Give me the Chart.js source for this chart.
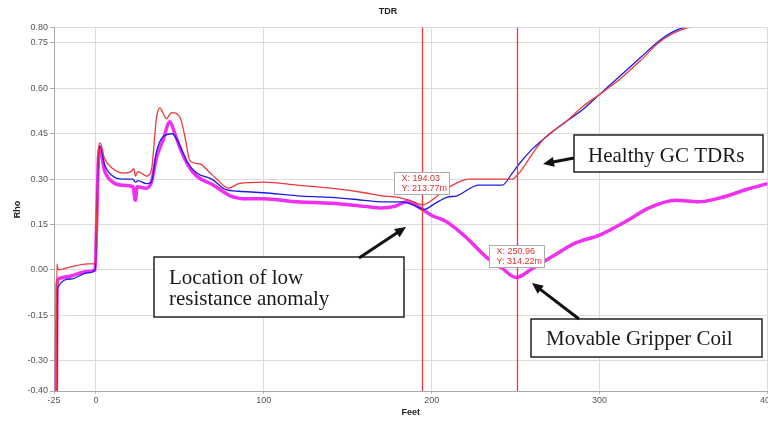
<!DOCTYPE html>
<html>
<head>
<meta charset="utf-8">
<script src="https://cdn.jsdelivr.net/npm/chart.js@4.4.1/dist/chart.umd.min.js"></script>
<style>
  html, body { margin: 0; padding: 0; background: #fff; overflow: hidden; }
  #wrap { width: 776px; height: 421px; }
</style>
</head>
<body>
<div id="wrap"><canvas id="tdr" width="776" height="421"></canvas></div>
<script>
// 1. Data (feet vs rho)
const xTicks = [-25, 0, 100, 200, 300, 400];
const yTicks = [-0.40, -0.30, -0.15, 0.00, 0.15, 0.30, 0.45, 0.60, 0.75, 0.80];

const redFeet = [-23.6, -23.3, -22.5, -15, -5, -0.5, 0.5, 1.5, 2.5, 5, 10, 16, 21, 22.5, 23.5, 25, 30, 33, 36, 38, 42, 45, 50, 53, 56, 62, 68, 72, 79, 85, 100, 120, 140, 160, 170, 180, 187, 194.5, 200, 208, 216, 222, 230, 240, 248, 252, 256, 262, 268, 280, 290, 300, 312, 324, 335, 343, 352, 360, 370];
const redRho = [-0.42, 0.02, 0.00, 0.01, 0.02, 0.02, 0.20, 0.40, 0.42, 0.37, 0.335, 0.32, 0.325, 0.335, 0.31, 0.325, 0.31, 0.33, 0.50, 0.535, 0.50, 0.52, 0.505, 0.44, 0.36, 0.35, 0.32, 0.30, 0.27, 0.285, 0.29, 0.28, 0.27, 0.255, 0.245, 0.24, 0.23, 0.215, 0.23, 0.265, 0.29, 0.30, 0.30, 0.30, 0.30, 0.32, 0.35, 0.40, 0.44, 0.49, 0.54, 0.58, 0.63, 0.69, 0.75, 0.78, 0.80, 0.81, 0.83];

const blueFeet = [-23.4, -22.8, -15, -5, -0.5, 0.5, 1.5, 2.5, 5, 10, 16, 22, 23.5, 25, 30, 33, 36, 40, 45.5, 50, 54.5, 60, 69, 77.5, 85, 100, 120, 140, 160, 170, 182, 189, 195.5, 202, 209, 215, 228, 242, 248, 252, 260, 264, 275, 290, 300, 312, 324, 335, 343, 352, 360, 370];
const blueRho = [-0.40, -0.06, -0.03, -0.01, 0.00, 0.18, 0.38, 0.41, 0.35, 0.31, 0.30, 0.30, 0.29, 0.295, 0.285, 0.29, 0.39, 0.44, 0.45, 0.41, 0.355, 0.32, 0.30, 0.265, 0.26, 0.255, 0.245, 0.24, 0.23, 0.225, 0.225, 0.215, 0.20, 0.22, 0.24, 0.245, 0.28, 0.28, 0.32, 0.35, 0.40, 0.42, 0.47, 0.53, 0.58, 0.64, 0.70, 0.755, 0.785, 0.805, 0.82, 0.84];

const pinkFeet = [-23.6, -23.2, -22.5, -15, -5, -0.5, 0.5, 1.5, 2.5, 5, 10, 16, 22, 23.5, 24.5, 30, 33, 36, 40, 44, 47, 51, 55, 60, 70, 80, 90, 100, 120, 140, 160, 170, 178, 185, 194.5, 200, 208.6, 220, 232, 242, 250.3, 260, 272, 286, 300, 315.6, 329.5, 345.5, 359, 373, 387, 400];
const pinkRho = [-0.42, -0.05, -0.03, -0.02, -0.005, 0.00, 0.18, 0.37, 0.40, 0.33, 0.29, 0.28, 0.275, 0.23, 0.275, 0.27, 0.29, 0.37, 0.43, 0.49, 0.45, 0.39, 0.345, 0.31, 0.28, 0.245, 0.235, 0.235, 0.225, 0.22, 0.21, 0.205, 0.21, 0.225, 0.20, 0.18, 0.16, 0.11, 0.045, 0.005, -0.025, 0.005, 0.045, 0.09, 0.115, 0.16, 0.205, 0.23, 0.225, 0.24, 0.265, 0.285];

// cursor markers
const cursorFeet = [194.03, 250.96];
const cursorRho = [0.215, -0.025];
const cursorText = [['X: 194.03', 'Y: 213.77m'], ['X: 250.96', 'Y: 314.22m']];

function toPoints(xs, ys) {
  return xs.map((x, i) => ({ x: x, y: ys[i] }));
}

// 2. Callouts, arrows and cursor lines
function arrow(ctx, x1, y1, x2, y2) {
  const ang = Math.atan2(y2 - y1, x2 - x1);
  const hl = 11, hw = 5;
  ctx.save();
  ctx.strokeStyle = '#111';
  ctx.fillStyle = '#111';
  ctx.lineWidth = 3;
  ctx.beginPath();
  ctx.moveTo(x1, y1);
  ctx.lineTo(x2 - Math.cos(ang) * hl * 0.8, y2 - Math.sin(ang) * hl * 0.8);
  ctx.stroke();
  ctx.beginPath();
  ctx.moveTo(x2, y2);
  ctx.lineTo(x2 - Math.cos(ang) * hl + Math.sin(ang) * hw, y2 - Math.sin(ang) * hl - Math.cos(ang) * hw);
  ctx.lineTo(x2 - Math.cos(ang) * hl - Math.sin(ang) * hw, y2 - Math.sin(ang) * hl + Math.cos(ang) * hw);
  ctx.closePath();
  ctx.fill();
  ctx.restore();
}

function callout(ctx, x, y, w, h, lines, tx, ty) {
  ctx.save();
  ctx.fillStyle = '#fff';
  ctx.fillRect(x, y, w, h);
  ctx.strokeStyle = '#222';
  ctx.lineWidth = 1.5;
  ctx.strokeRect(x, y, w, h);
  ctx.fillStyle = '#1a1a1a';
  ctx.font = '21px "Liberation Serif", "Times New Roman", serif';
  ctx.textBaseline = 'alphabetic';
  lines.forEach((t, i) => ctx.fillText(t, tx, ty + i * 21));
  ctx.restore();
}

const overlay = {
  id: 'overlay',
  afterDatasetsDraw(chart) {
    const ctx = chart.ctx;
    const xs = chart.scales.x, ys = chart.scales.y;
    const area = chart.chartArea;
    ctx.save();
    ctx.strokeStyle = '#e8383a';
    ctx.lineWidth = 1.3;
    cursorFeet.forEach((f) => {
      const px = Math.round(xs.getPixelForValue(f)) + 0.5;
      ctx.beginPath();
      ctx.moveTo(px, area.top);
      ctx.lineTo(px, area.bottom);
      ctx.stroke();
    });
    // cursor value boxes
    ctx.font = '9px "Liberation Sans", Arial, sans-serif';
    cursorFeet.forEach((f, i) => {
      const cx = xs.getPixelForValue(f);
      const cy = ys.getPixelForValue(cursorRho[i]);
      const bx = Math.round(cx - 28) + 0.5, by = Math.round(cy - 33) + 0.5;
      ctx.fillStyle = '#fff';
      ctx.fillRect(bx, by, 55, 22);
      ctx.strokeStyle = '#aaa';
      ctx.lineWidth = 1;
      ctx.strokeRect(bx, by, 55, 22);
      ctx.fillStyle = '#e03030';
      ctx.textBaseline = 'middle';
      ctx.fillText(cursorText[i][0], bx + 7, by + 6);
      ctx.fillText(cursorText[i][1], bx + 7, by + 16);
    });
    ctx.restore();
  },
  afterDraw(chart) {
    const ctx = chart.ctx;
    callout(ctx, 574, 135, 189, 37, ['Healthy GC TDRs'], 588, 162);
    arrow(ctx, 574, 158, 543, 164);
    callout(ctx, 154, 257, 250, 60, ['Location of low', 'resistance anomaly'], 169, 284);
    arrow(ctx, 359, 258, 406, 227);
    callout(ctx, 531, 319, 231, 38, ['Movable Gripper Coil'], 546, 345);
    arrow(ctx, 579, 319, 532, 283);
  }
};

// 3. Chart
const tickFont = { family: '"Liberation Sans", Arial, sans-serif', size: 9 };
const titleFont = { family: '"Liberation Sans", Arial, sans-serif', size: 9, weight: 'bold' };

new Chart(document.getElementById('tdr').getContext('2d'), {
  type: 'line',
  data: {
    datasets: [
      { label: 'Healthy 1', data: toPoints(redFeet, redRho), borderColor: '#f0383a', borderWidth: 1.3, order: 1 },
      { label: 'Healthy 2', data: toPoints(blueFeet, blueRho), borderColor: '#1c1ce6', borderWidth: 1.3, order: 2 },
      { label: 'Gripper Coil', data: toPoints(pinkFeet, pinkRho), borderColor: '#f030f0', borderWidth: 3.5, order: 3 }
    ]
  },
  options: {
    responsive: false,
    animation: false,
    events: [],
    elements: { point: { radius: 0 }, line: { cubicInterpolationMode: 'monotone' } },
    layout: { padding: 0 },
    plugins: {
      legend: { display: false },
      tooltip: { enabled: false },
      title: {
        display: true,
        text: 'TDR',
        color: '#222',
        font: titleFont,
        padding: { top: 6, bottom: 11 }
      }
    },
    scales: {
      x: {
        type: 'linear',
        min: -25,
        max: 400,
        afterBuildTicks: (s) => { s.ticks = xTicks.map((v) => ({ value: v })); },
        afterFit: (s) => { s.height = 30; },
        ticks: { font: tickFont, color: '#555', padding: 1, maxRotation: 0, callback: (v) => String(v) },
        grid: { color: '#dcdcdc', tickLength: 3, tickColor: '#bbb' },
        border: { color: '#aaa' },
        title: { display: true, text: 'Feet', color: '#222', font: titleFont, padding: { top: 0, bottom: 3 } }
      },
      y: {
        min: -0.40,
        max: 0.80,
        afterBuildTicks: (s) => { s.ticks = yTicks.map((v) => ({ value: v })); },
        afterFit: (s) => { s.width = 54; },
        ticks: { font: tickFont, color: '#555', padding: 2, callback: (v) => Number(v).toFixed(2) },
        grid: { color: '#dcdcdc', tickLength: 4, tickColor: '#aaa' },
        border: { color: '#aaa' },
        title: { display: true, text: 'Rho', color: '#222', font: titleFont, padding: { top: 12, bottom: 0 } }
      }
    }
  },
  plugins: [overlay]
});
</script>
</body>
</html>
